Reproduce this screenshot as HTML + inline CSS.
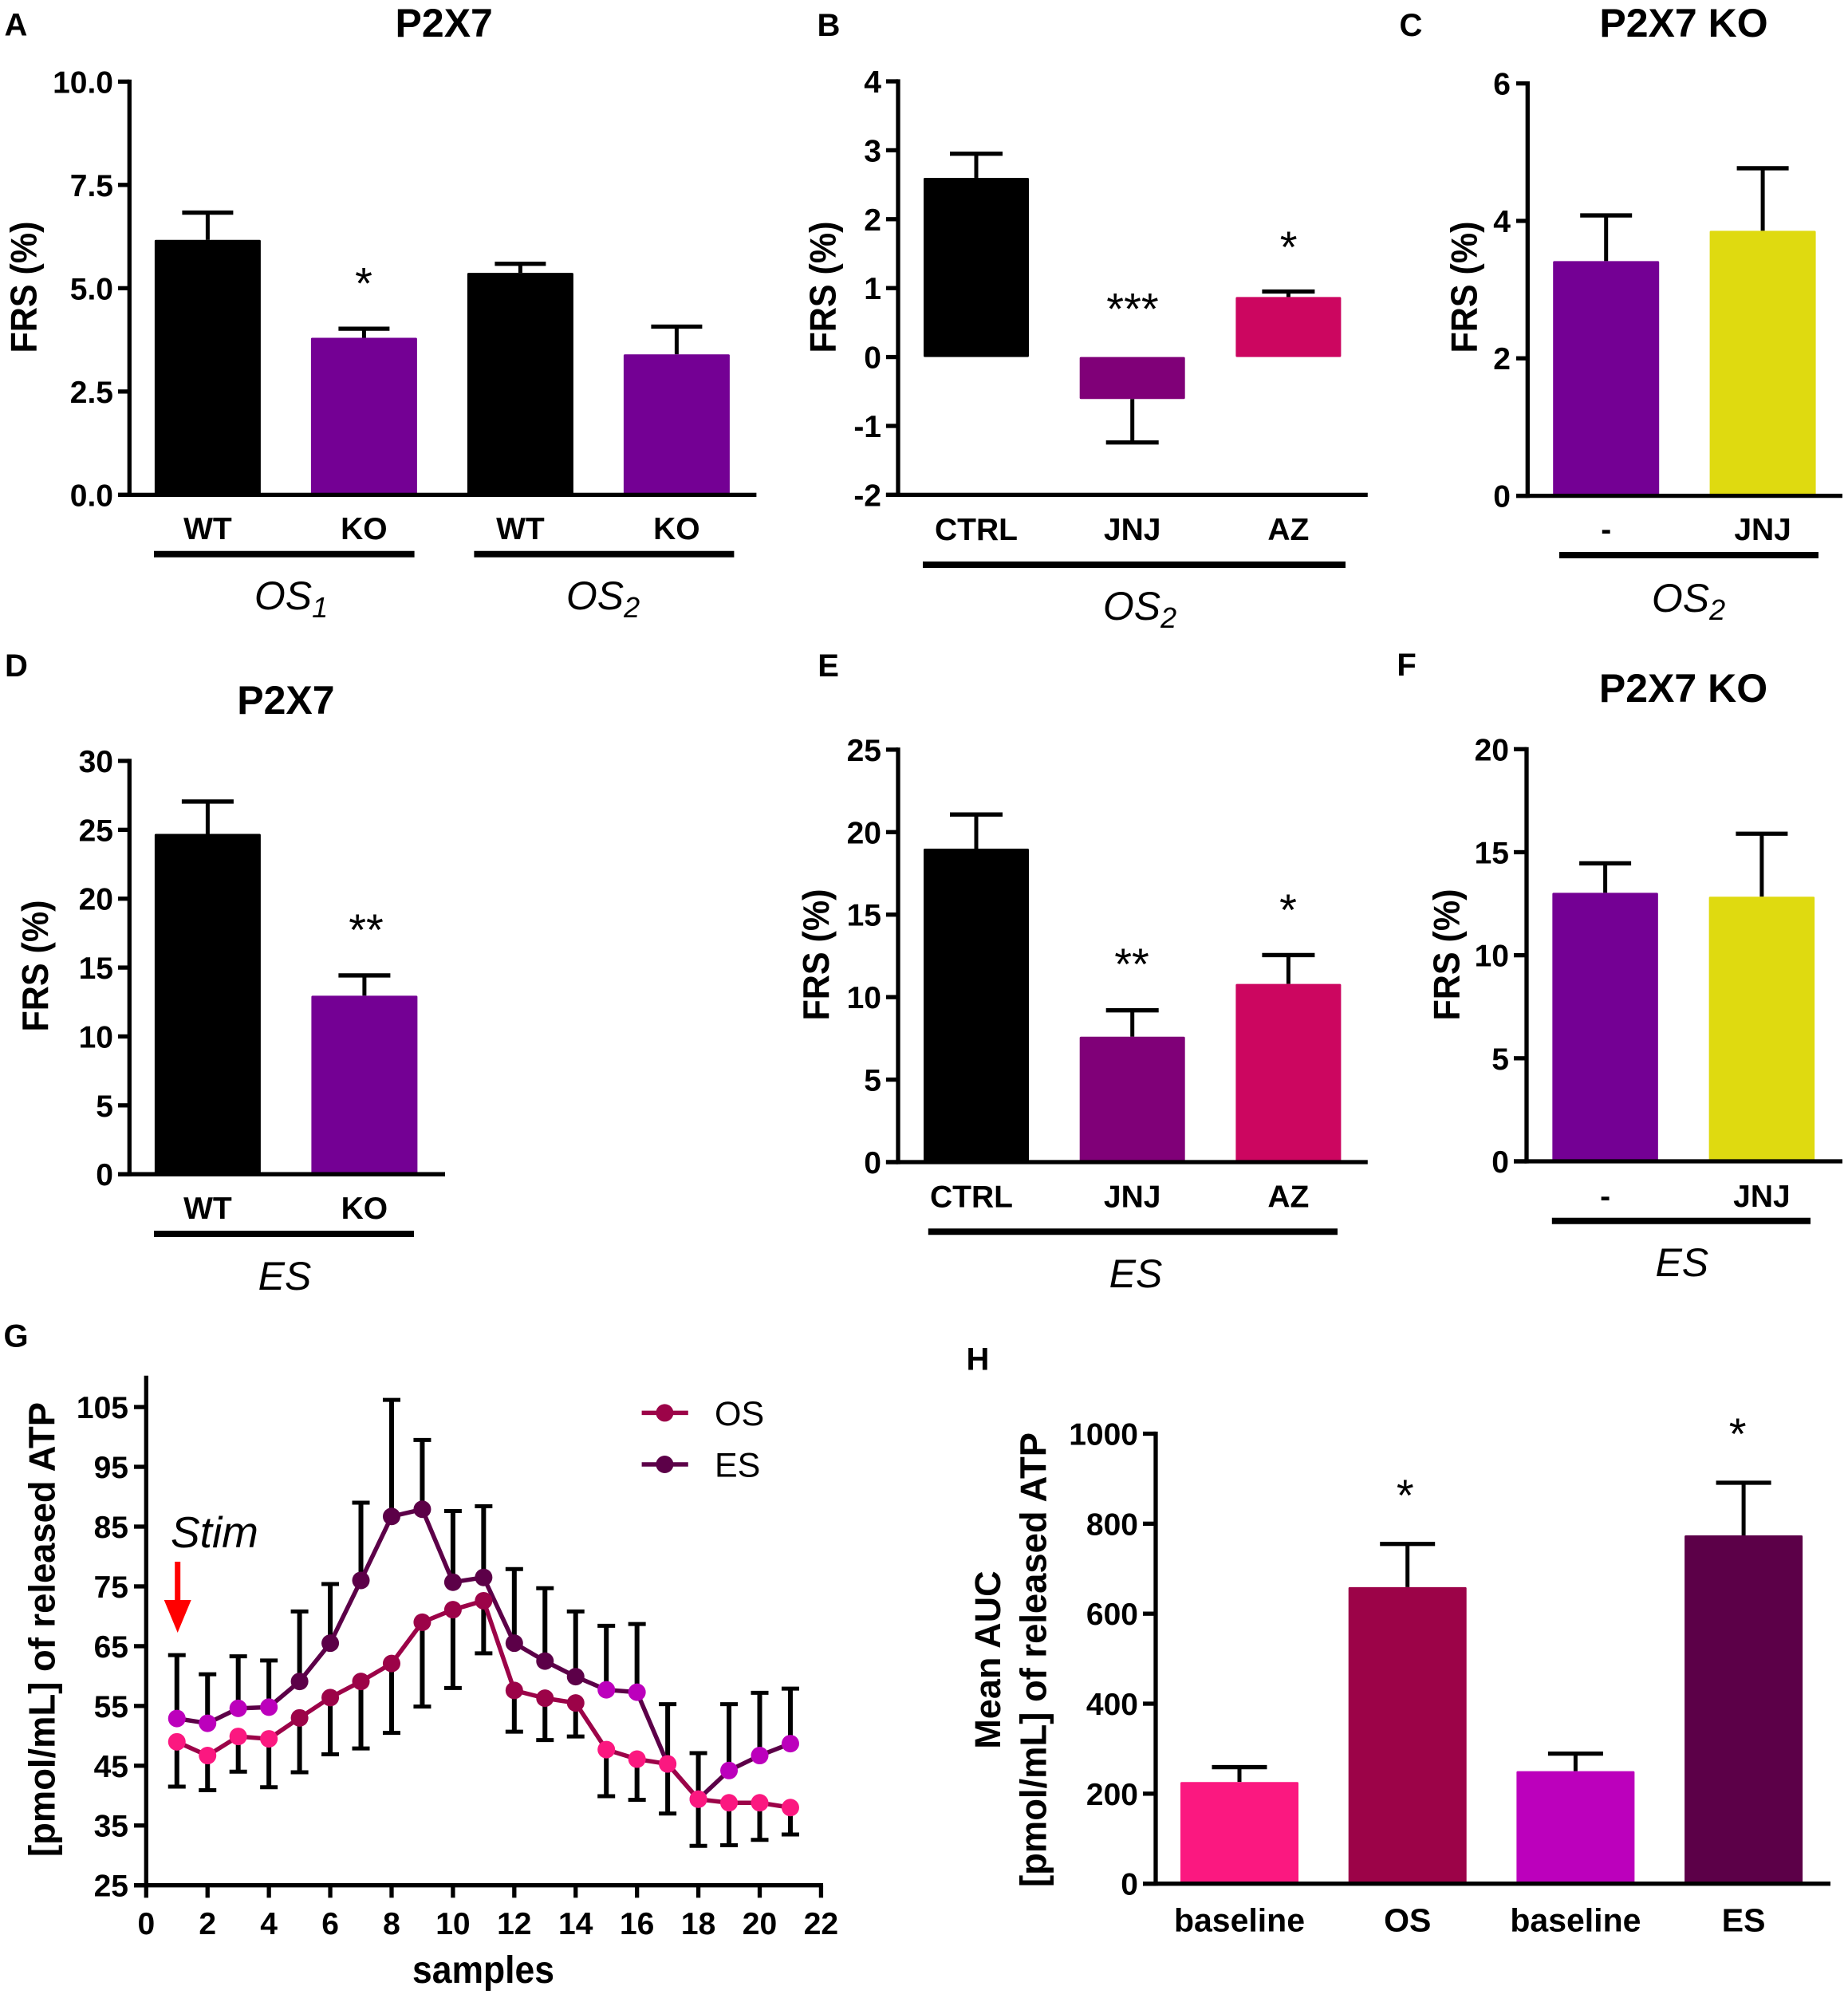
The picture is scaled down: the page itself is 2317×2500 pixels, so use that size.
<!DOCTYPE html>
<html lang="en">
<head>
<meta charset="utf-8">
<title>P2X7 FRS and released ATP panels</title>
<style>
html,body{margin:0;padding:0;background:#fff;width:2317px;height:2500px;overflow:hidden}
svg{display:block;position:absolute;left:0;top:0}
text{font-family:"Liberation Sans",sans-serif;fill:#000}
</style>
</head>
<body>
<svg id="figure" xmlns="http://www.w3.org/2000/svg" width="2317" height="2500" viewBox="0 0 2317 2500"></svg>
<script>
// ---------- Panel A ----------
const aCategories = ['WT', 'KO', 'WT', 'KO'];
const aValues = [6.17, 3.8, 5.37, 3.4];
const aErrors = [0.66, 0.22, 0.22, 0.67];
const aTicks = [0, 2.5, 5, 7.5, 10];
const aTickLabels = ['0.0', '2.5', '5.0', '7.5', '10.0'];
// ---------- Panel B ----------
const bCategories = ['CTRL', 'JNJ', 'AZ'];
const bValues = [2.6, -0.61, 0.87];
const bErrors = [0.35, 0.63, 0.08];
const bTicks = [-2, -1, 0, 1, 2, 3, 4];
const bTickLabels = ['-2', '-1', '0', '1', '2', '3', '4'];
// ---------- Panel C ----------
const cCategories = ['-', 'JNJ'];
const cValues = [3.415, 3.856];
const cErrors = [0.665, 0.91];
const cTicks = [0, 2, 4, 6];
const cTickLabels = ['0', '2', '4', '6'];
// ---------- Panel D ----------
const dCategories = ['WT', 'KO'];
const dValues = [24.7, 12.96];
const dErrors = [2.35, 1.47];
const dTicks = [0, 5, 10, 15, 20, 25, 30];
const dTickLabels = ['0', '5', '10', '15', '20', '25', '30'];
// ---------- Panel E ----------
const eCategories = ['CTRL', 'JNJ', 'AZ'];
const eValues = [19, 7.6, 10.8];
const eErrors = [2.07, 1.6, 1.75];
const eTicks = [0, 5, 10, 15, 20, 25];
const eTickLabels = ['0', '5', '10', '15', '20', '25'];
// ---------- Panel F ----------
const fCategories = ['-', 'JNJ'];
const fValues = [13.03, 12.84];
const fErrors = [1.43, 3.06];
const fTicks = [0, 5, 10, 15, 20];
const fTickLabels = ['0', '5', '10', '15', '20'];
// ---------- Panel G ----------
const gSamples = [1, 2, 3, 4, 5, 6, 7, 8, 9, 10, 11, 12, 13, 14, 15, 16, 17, 18, 19, 20, 21];
const gOsValues = [49, 46.7, 49.9, 49.5, 53, 56.4, 59.1, 62.1, 69, 71.1, 72.6, 57.6, 56.3, 55.5, 47.7, 46.1, 45.3, 39.4, 38.8, 38.8, 38];
const gEsValues = [52.9, 52.1, 54.6, 54.8, 59.1, 65.5, 76, 86.7, 87.9, 75.7, 76.5, 65.5, 62.5, 59.9, 57.7, 57.3, 45.3, 39.4, 44.2, 46.7, 48.7];
const gOsErrors = [7.5, 5.8, 5.9, 8.1, 9.1, 9.5, 11.2, 11.6, 14.1, 13.1, 8.8, 6.9, 7, 5.6, 7.8, 6.8, 8.3, 7.8, 7.1, 6.2, 4.5];
const gEsErrors = [10.6, 8.2, 8.7, 7.8, 11.7, 9.9, 13, 19.5, 11.6, 11.9, 11.9, 12.4, 12.2, 10.9, 10.7, 11.4, 10, 7.7, 11.1, 10.5, 9.2];
const gBaselineSamples = [1, 2, 3, 4, 15, 16, 17, 18, 19, 20, 21];
const gXTicks = [0, 2, 4, 6, 8, 10, 12, 14, 16, 18, 20, 22];
const gYTicks = [25, 35, 45, 55, 65, 75, 85, 95, 105];
// ---------- Panel H ----------
const hCategories = ['baseline', 'OS', 'baseline', 'ES'];
const hValues = [226, 659, 250, 774];
const hErrors = [33, 96, 39, 117];
const hTicks = [0, 200, 400, 600, 800, 1000];
const hTickLabels = ['0', '200', '400', '600', '800', '1000'];

const NS = 'http://www.w3.org/2000/svg';
const root = document.getElementById('figure');

function mk(parent, tag, name, attrs) {
  const el = document.createElementNS(NS, tag);
  
  
  for (const k in attrs) el.setAttribute(k, attrs[k]);
  parent.appendChild(el);
  return el;
}
function line(p, name, x1, y1, x2, y2, w, color) {
  return mk(p, 'line', name, {x1, y1, x2, y2, stroke: color || '#000', 'stroke-width': w});
}
// y is the vertical centre of the capitals
function label(p, name, str, x, y, fs, opt) {
  opt = opt || {};
  const a = {x, y: y + 0.358 * fs, 'font-size': fs, 'text-anchor': opt.anchor || 'middle'};
  if (opt.bold !== false) a['font-weight'] = 'bold';
  if (opt.italic) a['font-style'] = 'italic';
  if (opt.rotate) {
    a.x = x + 0.358 * fs;
    a.y = y;
    a.transform = 'rotate(-90 ' + a.x + ' ' + a.y + ')';
  }
  if (opt.len) {
    a.textLength = opt.len;
    a.lengthAdjust = 'spacingAndGlyphs';
  }
  const t = mk(p, 'text', name, a);
  t.textContent = str;
  return t;
}
function stars(p, str, x, yc) {
  const t = mk(p, 'text', 'significance-stars', {x, y: yc + 28, 'font-size': 56, 'text-anchor': 'middle'});
  t.textContent = str;
}
function sublabel(p, main, sub, x, yc) {
  const t = mk(p, 'text', 'condition-label', {x, y: yc + 18, 'font-size': 50, 'font-style': 'italic', 'text-anchor': 'middle'});
  t.appendChild(document.createTextNode(main));
  if (sub) {
    const s = mk(t, 'tspan', 'condition-subscript', {dy: 10, 'font-size': 36});
    s.textContent = sub;
  }
}
function frsTitle(x, y) {
  label(root, 'y-axis-title', 'FRS (%)', x, y, 46, {rotate: true, len: 165});
}
function yAxisDraw(g, c, ticks, tickLabels, yScale) {
  line(g, 'y-axis-line', c.axisX, c.top - 2.6, c.axisX, c.bottom + 2.6, 5.3);
  ticks.forEach(function (v, i) {
    line(g, 'y-tick', c.tickX, yScale(v), c.axisX, yScale(v), 5.3);
    label(g, 'y-tick-label', tickLabels[i], c.tickLabelX, yScale(v), 39, {anchor: 'end'});
  });
}
function barPanel(name, c, categories, values, errors, ticks, tickLabels) {
  const g = mk(root, 'g', name, {});
  const yScale = v => c.bottom - (v - c.yMin) / (c.yMax - c.yMin) * (c.bottom - c.top);
  const xScale = i => c.c0 + i * c.step;
  const zero = yScale(Math.max(0, c.yMin));
  categories.forEach(function (cat, i) {
    const v = values[i];
    const tip = v >= 0 ? v + errors[i] : v - errors[i];
    const cx = xScale(i);
    line(g, 'error-bar', cx, yScale(v), cx, yScale(tip), 5);
    line(g, 'error-cap', cx - c.cap / 2, yScale(tip), cx + c.cap / 2, yScale(tip), 5.3);
    mk(g, 'rect', 'bar-' + cat.replace('-', 'vehicle').toLowerCase(), {
      x: cx - c.barW / 2,
      y: Math.min(yScale(v), zero),
      width: c.barW,
      height: Math.abs(yScale(v) - zero),
      rx: 1.5,
      fill: c.colors[i]
    });
    const dx = (c.labelDx && c.labelDx[i]) || 0;
    label(g, 'x-category-label', cat, cx + dx, c.labelY, c.labelFs || 39);
  });
  line(g, 'x-axis-line', c.tickX, c.bottom, c.axisEnd, c.bottom, 5.3);
  yAxisDraw(g, c, ticks, tickLabels, yScale);
  return g;
}
function groupBar(x1, x2, y) {
  line(root, 'group-underline', x1, y, x2, y, 8);
}
const PURPLE = '#740094', YELLOW = '#DFDA10', DPURPLE = '#800078', CRIMSON = '#CC0660';

// --- A
barPanel('panel-a', {axisX: 162.3, top: 102.3, bottom: 620.4, yMin: 0, yMax: 10, tickX: 148, tickLabelX: 142, axisEnd: 948.4, c0: 260.4, step: 196, barW: 133, cap: 64, labelY: 662, colors: ['#000', PURPLE, '#000', PURPLE]}, aCategories, aValues, aErrors, aTicks, aTickLabels);
label(root, 'panel-letter-a', 'A', 20, 30, 40);
label(root, 'panel-title', 'P2X7', 556.7, 28, 50);
frsTitle(29, 360);
stars(root, '*', 456, 346.5);
groupBar(193, 519.6, 694.7);
groupBar(594.4, 920.4, 694.7);
sublabel(root, 'OS', '1', 365, 746);
sublabel(root, 'OS', '2', 756, 746);

// --- B
barPanel('panel-b', {axisX: 1126, top: 102, bottom: 620.4, yMin: -2, yMax: 4, tickX: 1110.9, tickLabelX: 1105, axisEnd: 1714.8, c0: 1224, step: 195.7, barW: 132, cap: 66, labelY: 663, colors: ['#000', DPURPLE, CRIMSON]}, bCategories, bValues, bErrors, bTicks, bTickLabels);
label(root, 'panel-letter-b', 'B', 1039, 30.6, 40);
frsTitle(1031, 360);
stars(root, '***', 1420, 378.6);
stars(root, '*', 1615.7, 301);
groupBar(1157, 1687, 708);
sublabel(root, 'OS', '2', 1429, 759);

// --- C
barPanel('panel-c', {axisX: 1915.3, top: 104.6, bottom: 621.6, yMin: 0, yMax: 6, tickX: 1901, tickLabelX: 1894, axisEnd: 2310, c0: 2013.7, step: 196.4, barW: 133, cap: 65, labelY: 663, colors: [PURPLE, YELLOW]}, cCategories, cValues, cErrors, cTicks, cTickLabels);
label(root, 'panel-letter-c', 'C', 1769, 30.6, 40);
label(root, 'panel-title', 'P2X7 KO', 2111, 28, 50);
frsTitle(1835, 360);
groupBar(1955, 2280, 696);
sublabel(root, 'OS', '2', 2117, 749);

// --- D
barPanel('panel-d', {axisX: 162.3, top: 954, bottom: 1472.2, yMin: 0, yMax: 30, tickX: 148, tickLabelX: 142, axisEnd: 558, c0: 260.4, step: 196.5, barW: 133, cap: 65, labelY: 1514, colors: ['#000', PURPLE]}, dCategories, dValues, dErrors, dTicks, dTickLabels);
label(root, 'panel-letter-d', 'D', 20.4, 833.6, 40);
label(root, 'panel-title', 'P2X7', 358.4, 877, 50);
frsTitle(43.5, 1211);
stars(root, '**', 459, 1157);
groupBar(193, 519, 1547);
sublabel(root, 'ES', '', 357, 1599);

// --- E
barPanel('panel-e', {axisX: 1126, top: 939.9, bottom: 1457, yMin: 0, yMax: 25, tickX: 1110.9, tickLabelX: 1105, axisEnd: 1714.8, c0: 1224, step: 195.7, barW: 132, cap: 66, labelY: 1499.3, labelDx: {0: -6}, colors: ['#000', DPURPLE, CRIMSON]}, eCategories, eValues, eErrors, eTicks, eTickLabels);
label(root, 'panel-letter-e', 'E', 1038.6, 833.6, 40);
frsTitle(1022.5, 1197);
stars(root, '**', 1419, 1200);
stars(root, '*', 1615, 1132);
groupBar(1163.8, 1677, 1544.3);
sublabel(root, 'ES', '', 1424, 1596);

// --- F
barPanel('panel-f', {axisX: 1914, top: 939.3, bottom: 1456, yMin: 0, yMax: 20, tickX: 1898, tickLabelX: 1892, axisEnd: 2310, c0: 2012.6, step: 196.3, barW: 132.5, cap: 65, labelY: 1499, colors: [PURPLE, YELLOW]}, fCategories, fValues, fErrors, fTicks, fTickLabels);
label(root, 'panel-letter-f', 'F', 1763.6, 832.5, 40);
label(root, 'panel-title', 'P2X7 KO', 2110.5, 862, 50);
frsTitle(1813, 1197);
groupBar(1945.8, 2270, 1530.8);
sublabel(root, 'ES', '', 2108.8, 1582);

// --- G (time course)
(function () {
  const g = mk(root, 'g', 'panel-g', {});
  const gx = v => 183.3 + v * 38.46;
  const gy = v => 2363.7 - (v - 25) * 7.495;
  const OS_LINE = '#9C0348', ES_LINE = '#5C0048', OS_BASE = '#FB1880', ES_BASE = '#BC00BC';
  function errors(series, errs, dir, nm) {
    gSamples.forEach(function (s, i) {
      const tip = series[i] + dir * errs[i];
      line(g, nm + '-error-bar', gx(s), gy(series[i]), gx(s), gy(tip), 6);
      line(g, nm + '-error-cap', gx(s) - 11, gy(tip), gx(s) + 11, gy(tip), 5);
    });
  }
  function series(vals, stroke, baseFill, nm) {
    const pts = gSamples.map((s, i) => gx(s) + ',' + gy(vals[i])).join(' ');
    mk(g, 'polyline', nm + '-line', {points: pts, fill: 'none', stroke: stroke, 'stroke-width': 5.5, 'stroke-linejoin': 'round'});
    gSamples.forEach(function (s, i) {
      const fill = gBaselineSamples.includes(s) ? baseFill : stroke;
      mk(g, 'circle', nm + '-point', {cx: gx(s), cy: gy(vals[i]), r: 11, fill: fill});
    });
  }
  errors(gEsValues, gEsErrors, 1, 'es');
  errors(gOsValues, gOsErrors, -1, 'os');
  series(gEsValues, ES_LINE, ES_BASE, 'es');
  series(gOsValues, OS_LINE, OS_BASE, 'os');
  line(g, 'y-axis-line', 183.3, 1724.8, 183.3, 2366, 5.3);
  line(g, 'x-axis-line', 168, gy(25), gx(22) + 2.6, gy(25), 5.3);
  gYTicks.forEach(function (v) {
    line(g, 'y-tick', 168, gy(v), 183.3, gy(v), 5.3);
    label(g, 'y-tick-label', String(v), 161, gy(v), 39, {anchor: 'end'});
  });
  gXTicks.forEach(function (v) {
    line(g, 'x-tick', gx(v), gy(25), gx(v), 2379.3, 5.3);
    label(g, 'x-tick-label', String(v), gx(v), 2411, 39);
  });
  label(g, 'x-axis-title', 'samples', 606, 2468.6, 48, {len: 178});
  label(g, 'y-axis-title', '[pmol/mL] of released ATP', 52, 2043, 46, {rotate: true, len: 570});
  label(g, 'panel-letter-g', 'G', 20, 1674.4, 40);
  // legend
  const legendOs = mk(g, 'g', 'legend-entry-os', {});
  line(legendOs, 'legend-line', 804.6, 1771.4, 862.8, 1771.4, 5.5, OS_LINE);
  mk(legendOs, 'circle', 'legend-marker', {cx: 833.4, cy: 1771.4, r: 11, fill: OS_LINE});
  label(legendOs, 'legend-label', 'OS', 896, 1771.4, 43, {anchor: 'start', bold: false});
  const legendEs = mk(g, 'g', 'legend-entry-es', {});
  line(legendEs, 'legend-line', 804.6, 1836, 862.8, 1836, 5.5, ES_LINE);
  mk(legendEs, 'circle', 'legend-marker', {cx: 833.4, cy: 1836, r: 11, fill: ES_LINE});
  label(legendEs, 'legend-label', 'ES', 896, 1836, 43, {anchor: 'start', bold: false});
  // stimulus annotation
  const st = mk(g, 'text', 'stim-label', {x: 214, y: 1940, 'font-size': 55, 'font-style': 'italic'});
  st.textContent = 'Stim';
  mk(g, 'path', 'stim-arrow', {d: 'M219.2 1958h7v48h13.5l-17 41-17-41h13.5z', fill: '#FF0000'});
})();

// --- H
barPanel('panel-h', {axisX: 1449, top: 1797.5, bottom: 2361.7, yMin: 0, yMax: 1000, tickX: 1433, tickLabelX: 1427, axisEnd: 2295, c0: 1554, step: 210.7, barW: 148, cap: 69, labelY: 2407, labelFs: 41, colors: ['#FB1880', '#9C0348', '#BC00BC', '#5C0048']}, hCategories, hValues, hErrors, hTicks, hTickLabels);
label(root, 'panel-letter-h', 'H', 1226, 1703, 40);
label(root, 'y-axis-title-line-1', 'Mean AUC', 1237.8, 2081, 45, {rotate: true});
label(root, 'y-axis-title-line-2', '[pmol/mL] of released ATP', 1295, 2081, 46, {rotate: true, len: 570});
stars(root, '*', 1761.8, 1866);
stars(root, '*', 2178.6, 1789);
</script>
</body>
</html>
